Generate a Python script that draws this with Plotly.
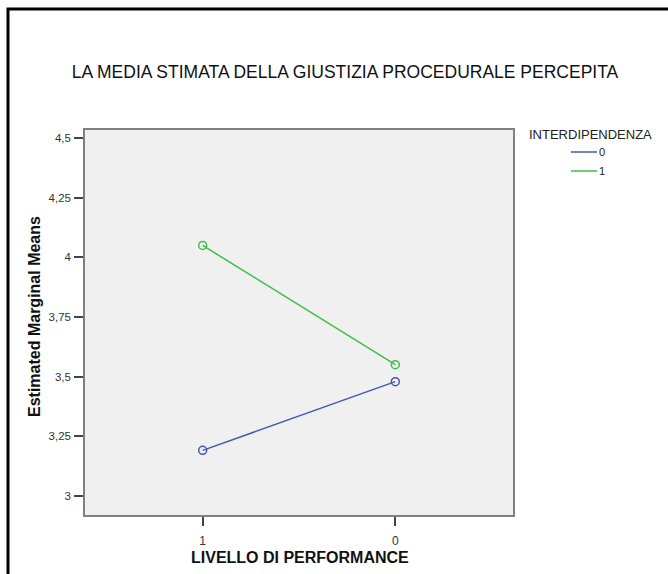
import plotly.graph_objects as go

# Data
categories = ["1", "0"]
series_names = ["0", "1"]
series_values = {
    "0": [3.191, 3.479],
    "1": [4.050, 3.550],
}
series_colors = {"0": "#4656b8", "1": "#3fbe4c"}
ytick_vals = [3, 3.25, 3.5, 3.75, 4, 4.25, 4.5]
ytick_text = ["3", "3,25", "3,5", "3,75", "4", "4,25", "4,5"]

title_text = "LA MEDIA STIMATA DELLA GIUSTIZIA PROCEDURALE PERCEPITA"
x_title = "LIVELLO DI PERFORMANCE"
y_title = "Estimated Marginal Means"
legend_title = "INTERDIPENDENZA"

W, H = 668, 574
L, R, T, B = 85, 668 - 513, 130, 574 - 515
pw, ph = W - L - R, H - T - B


def px(x):
    return (x - L) / pw


def py(y):
    return (H - B - y) / ph


fig = go.Figure()
for name in series_names:
    fig.add_trace(go.Scatter(
        x=categories, y=series_values[name], mode="lines+markers", name=name,
        line=dict(color=series_colors[name], width=1.5),
        marker=dict(symbol="circle-open", size=8, color=series_colors[name],
                    line=dict(width=1.5)),
        showlegend=False, hoverinfo="x+y+name",
    ))

shapes = []
annotations = []
# outer frame (only top & left visible)
shapes.append(dict(type="path", xref="paper", yref="paper",
                   path=f"M {px(8)} {py(900)} L {px(8)} {py(9)} L {px(900)} {py(9)}",
                   line=dict(color="black", width=3)))

# manual legend
annotations.append(dict(text=legend_title, xref="paper", yref="paper",
                        x=px(527), y=py(134), xanchor="left", yanchor="middle",
                        showarrow=False, font=dict(size=13, color="#222")))
for i, name in enumerate(series_names):
    yy = 152 + i * 19
    shapes.append(dict(type="line", xref="paper", yref="paper",
                       x0=px(571), x1=px(597), y0=py(yy), y1=py(yy),
                       line=dict(color=series_colors[name], width=1.5)))
    annotations.append(dict(text=name, xref="paper", yref="paper",
                            x=px(597), y=py(yy), xanchor="left", yanchor="middle",
                            showarrow=False, font=dict(size=11, color="#222")))

annotations.append(dict(text=f"<b>{y_title}</b>", xref="paper", yref="paper",
                        x=px(34), y=py(317), textangle=-90, showarrow=False,
                        xanchor="center", yanchor="middle",
                        font=dict(size=16, color="#111")))
annotations.append(dict(text=f"<b>{x_title}</b>", xref="paper", yref="paper",
                        x=px(300), y=py(557), showarrow=False,
                        xanchor="center", yanchor="middle",
                        font=dict(size=16, color="#111")))

fig.update_layout(
    width=W, height=H,
    margin=dict(l=L, r=R, t=T, b=B),
    paper_bgcolor="white", plot_bgcolor="#f0f0f0",
    font=dict(family="Liberation Sans, Arial, sans-serif", color="#333"),
    title=dict(text=title_text, x=px(345), xref="paper", xanchor="center",
               y=(H - 72) / H, yref="container", yanchor="middle",
               font=dict(size=17.5, color="#111")),
    shapes=shapes, annotations=annotations,
)
fig.update_xaxes(type="category", range=[-0.611, 1.611], showgrid=False,
                 zeroline=False, showline=True, linecolor="#808080", linewidth=1.5,
                 mirror=True, ticks="outside", ticklen=9, tickwidth=1.5,
                 tickcolor="#444", ticklabelstandoff=5,
                 tickfont=dict(size=12, color="#333"))
fig.update_yaxes(range=[2.92, 4.534], showgrid=False, zeroline=False,
                 showline=True, linecolor="#808080", linewidth=1.5, mirror=True,
                 ticks="outside", ticklen=9, tickwidth=1.5, tickcolor="#444",
                 ticklabelstandoff=1,
                 tickvals=ytick_vals, ticktext=ytick_text,
                 tickfont=dict(size=11.5, color="#333"))

fig.write_html("out.html", config={"displayModeBar": False},
               post_script="document.body.style.margin='0';")
